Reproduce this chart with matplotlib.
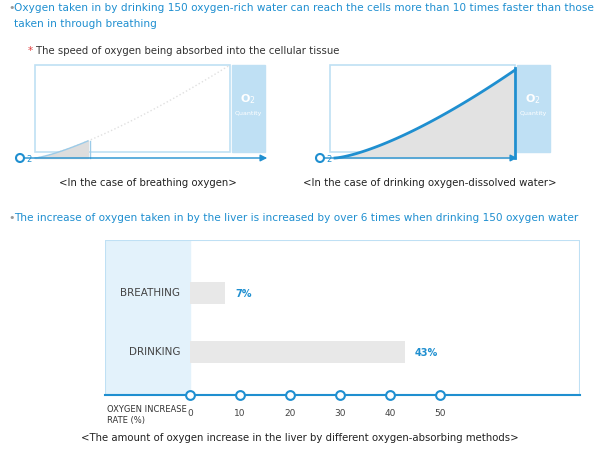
import numpy as np
import matplotlib.pyplot as plt
from matplotlib.patches import Rectangle, Circle

BLUE = '#1f8fd0'
LIGHT = '#bfe0f4'

methods = ['BREATHING', 'DRINKING']
rates = [7, 43]
ticks = [0, 10, 20, 30, 40, 50]

fig = plt.figure(figsize=(6, 4.5), dpi=100)
ax = fig.add_axes([0, 0, 1, 1])
ax.set_xlim(0, 600)
ax.set_ylim(450, 0)
ax.axis('off')

# header texts
ax.text(8, 8, '\u2022', color='#999999', fontsize=8, va='center')
ax.text(14, 8, 'Oxygen taken in by drinking 150 oxygen-rich water can reach the cells more than 10 times faster than those',
        color=BLUE, fontsize=7.6, va='center')
ax.text(14, 24, 'taken in through breathing', color=BLUE, fontsize=7.6, va='center')
ax.text(28, 51, '*', color='#e04040', fontsize=7.5, va='center')
ax.text(36, 51, 'The speed of oxygen being absorbed into the cellular tissue', color='#333333', fontsize=7.3, va='center')

# left panel: breathing
ax.add_patch(Rectangle((35, 65), 195, 87, fill=False, ec=LIGHT, lw=1.2))
ax.add_patch(Rectangle((232, 65), 33, 87, color=LIGHT))
t = np.linspace(0, 1, 60)
xs = 35 + 195 * t
ys = 158 - 93 * t ** 1.3
ax.plot(xs, ys, color='#e0e0e0', lw=1, ls=':')
m = xs <= 90
ax.fill_between(xs[m], ys[m], 158, color='#dddddd')
ax.plot(xs[m], ys[m], color='#9ccbe8', lw=1)
ax.plot([90, 90], [ys[m][-1], 158], color='#9ccbe8', lw=1)
ax.annotate('', xy=(270, 158), xytext=(22, 158), arrowprops=dict(arrowstyle='-|>', color=BLUE, lw=1))
ax.add_patch(Circle((20, 158), 4, fc='white', ec=BLUE, lw=1.5))
ax.text(26, 160, '2', color=BLUE, fontsize=6, va='center')
ax.text(248, 102, 'O$_2$', color='white', fontsize=8, ha='center', fontweight='bold')
ax.text(248, 115, 'Quantity', color='white', fontsize=4.5, ha='center')
ax.text(148, 183, '<In the case of breathing oxygen>', fontsize=7.3, ha='center', va='center', color='#222222')

# right panel: drinking
ax.add_patch(Rectangle((330, 65), 185, 87, fill=False, ec=LIGHT, lw=1.2))
ax.add_patch(Rectangle((517, 65), 33, 87, color=LIGHT))
xs2 = 335 + 180 * t
ys2 = 158 - 88 * t ** 1.4
ax.fill_between(xs2, ys2, 158, color='#e2e2e2')
ax.plot(xs2, ys2, color=BLUE, lw=2)
ax.plot([515, 515], [68, 158], color=BLUE, lw=2)
ax.annotate('', xy=(520, 158), xytext=(322, 158), arrowprops=dict(arrowstyle='-|>', color=BLUE, lw=1))
ax.add_patch(Circle((320, 158), 4, fc='white', ec=BLUE, lw=1.5))
ax.text(326, 160, '2', color=BLUE, fontsize=6, va='center')
ax.text(533, 102, 'O$_2$', color='white', fontsize=8, ha='center', fontweight='bold')
ax.text(533, 115, 'Quantity', color='white', fontsize=4.5, ha='center')
ax.text(430, 183, '<In the case of drinking oxygen-dissolved water>', fontsize=7.3, ha='center', va='center', color='#222222')

ax.text(8, 218, '\u2022', color='#999999', fontsize=8, va='center')
ax.text(14, 218, 'The increase of oxygen taken in by the liver is increased by over 6 times when drinking 150 oxygen water',
        color=BLUE, fontsize=7.6, va='center')

# bottom chart
bx = fig.add_axes([105 / 600, 1 - 395 / 450, 475 / 600, 155 / 450])
bx.set_xlim(-17, 78)
bx.set_ylim(395, 240)
bx.axis('off')
bx.add_patch(Rectangle((-17, 240), 17, 155, color='#e3f2fb', zorder=0))
bx.add_patch(Rectangle((-17, 240), 95, 155, fill=False, ec=LIGHT, lw=1.5, zorder=1))
ypos = [293, 352]
bx.barh(ypos, rates, height=22, color='#e8e8e8', zorder=2)
for y, name, r in zip(ypos, methods, rates):
    bx.text(-2, y, name, ha='right', va='center', fontsize=7.5, color='#444444')
    bx.text(r + 2, y + 1, f'{r}%', va='center', fontsize=7, color=BLUE, fontweight='bold')
bx.plot([-17, 78], [395, 395], color=BLUE, lw=1.5, zorder=3, clip_on=False)
bx.scatter(ticks, [395] * len(ticks), s=40, fc='white', ec=BLUE, lw=1.5, zorder=4, clip_on=False)

for v in ticks:
    ax.text(190 + 5 * v, 413, str(v), ha='center', va='center', fontsize=6.5, color='#444444')
ax.text(107, 410, 'OXYGEN INCREASE', fontsize=6, va='center', color='#333333')
ax.text(107, 421, 'RATE (%)', fontsize=6, va='center', color='#333333')
ax.text(300, 438, '<The amount of oxygen increase in the liver by different oxygen-absorbing methods>',
        fontsize=7.3, ha='center', va='center', color='#222222')

fig.savefig('out.png', dpi=100)
